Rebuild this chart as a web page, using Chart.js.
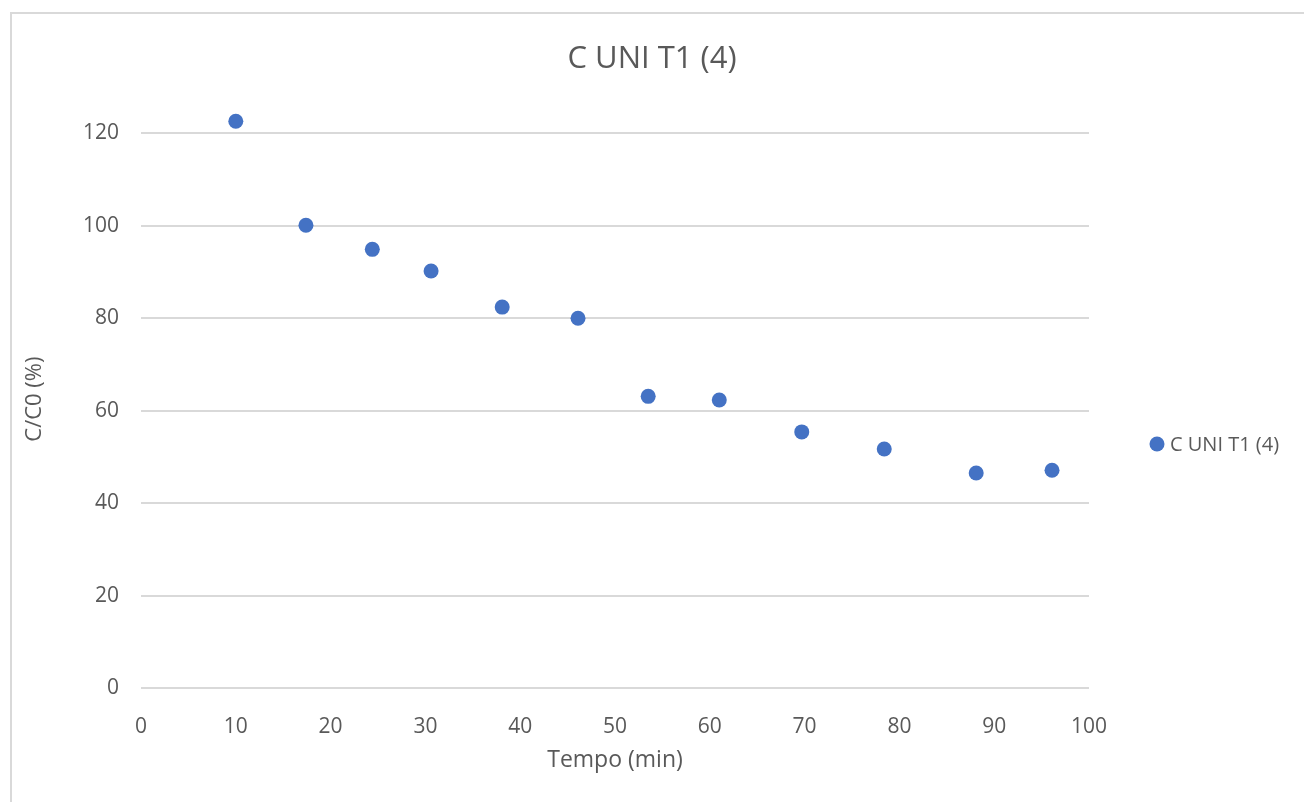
<!DOCTYPE html>
<html>
<head>
<meta charset="utf-8">
<script src="https://cdn.jsdelivr.net/npm/chart.js@4/dist/chart.umd.min.js"></script>
<style>
  body { margin: 0; background: #fff; overflow: hidden; }
  #box { position: absolute; left: 10px; top: 12px; width: 1400px; height: 900px; border: 2px solid #d9d9d9; }
  #myChart { position: absolute; left: 0; top: 0; }
</style>
</head>
<body>
<div id="box"></div>
<canvas id="myChart" width="1304" height="802"></canvas>
<script>
// tempo (min) and C/C0 (%)
var tempo = [10, 17.4, 24.4, 30.6, 38.1, 46.1, 53.5, 61.0, 69.7, 78.4, 88.1, 96.1];
var cc0 = [122.6, 100.1, 94.9, 90.2, 82.4, 80.0, 63.1, 62.3, 55.4, 51.7, 46.5, 47.1];
var seriesName = "C UNI T1 (4)";
var xTicks = [0, 10, 20, 30, 40, 50, 60, 70, 80, 90, 100];
var yTicks = [0, 20, 40, 60, 80, 100, 120];

var points = [];
for (let i = 0; i < tempo.length; i++) {
  points.push({ x: tempo[i], y: cc0[i] });
}

var blue = "#4472C4";
var grey = "#595959";
var font = "'Open Sans'";

// legend drawn at the right, like the excel one
const sideLegend = {
  id: "sideLegend",
  afterDraw(chart) {
    const ctx = chart.ctx;
    const ds = chart.data.datasets[0];
    const y = 444;
    ctx.save();
    ctx.fillStyle = ds.backgroundColor;
    ctx.beginPath();
    ctx.arc(1157, y, 7.5, 0, Math.PI * 2);
    ctx.fill();
    ctx.fillStyle = grey;
    ctx.font = "20px " + font;
    ctx.textBaseline = "middle";
    ctx.fillText(ds.label, 1170, y + 1);
    ctx.restore();
  }
};

const data = {
  datasets: [
    {
      label: seriesName,
      data: points,
      backgroundColor: blue,
      borderColor: blue,
      borderWidth: 0,
      pointRadius: 7.5,
      clip: false,
    },
  ],
};

const config = {
  type: "scatter",
  data: data,
  options: {
    responsive: false,
    animation: false,
    layout: { padding: 0 },
    plugins: {
      legend: { display: false },
      tooltip: { enabled: false },
      title: {
        display: true,
        text: seriesName,
        color: grey,
        font: { family: font, size: 31, weight: "normal" },
        padding: { top: 41, bottom: 32 },
      },
    },
    scales: {
      x: {
        type: "linear",
        min: 0,
        max: 100,
        afterBuildTicks: (s) => { s.ticks = xTicks.map((v) => ({ value: v })); },
        afterFit: (s) => { s.height = 114; },
        grid: { display: false },
        border: { display: false },
        ticks: { color: grey, font: { family: font, size: 21 }, padding: 18, maxRotation: 0 },
        title: {
          display: true,
          text: "Tempo (min)",
          color: grey,
          font: { family: font, size: 23 },
          padding: { top: 0, bottom: 28 },
        },
      },
      y: {
        min: 0,
        max: 125,
        afterBuildTicks: (s) => { s.ticks = yTicks.map((v) => ({ value: v })); },
        afterFit: (s) => { s.width = 141; },
        grid: { color: "#d9d9d9", lineWidth: 2, drawTicks: false },
        border: { display: false },
        ticks: { color: grey, font: { family: font, size: 21 }, padding: 22 },
        title: {
          display: true,
          text: "C/C0 (%)",
          color: grey,
          font: { family: font, size: 22 },
          padding: { top: 22, bottom: 0 },
        },
      },
      // empty space on the right for the legend
      side: {
        position: "right",
        min: 0,
        max: 1,
        afterFit: (s) => { s.width = 215; },
        grid: { display: false },
        border: { display: false },
        ticks: { display: false },
      },
    },
  },
  plugins: [sideLegend],
};

const myChart = new Chart(document.getElementById("myChart"), config);
</script>
</body>
</html>
